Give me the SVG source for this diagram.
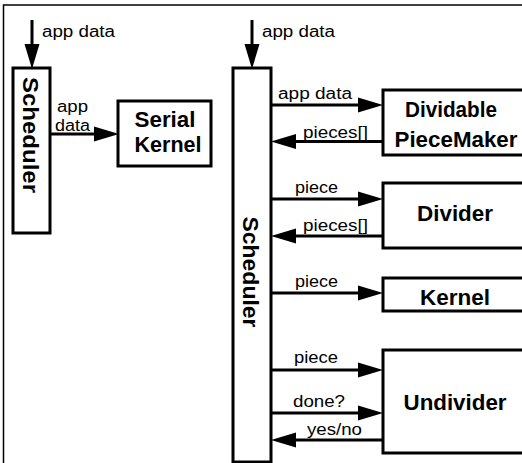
<svg xmlns="http://www.w3.org/2000/svg" width="522" height="463" viewBox="0 0 522 463">
<style>
.box{fill:#fff;stroke:#000;stroke-width:3}
.arr{fill:none;stroke:#000;stroke-width:3;marker-end:url(#ah)}
.lbl{font-family:"Liberation Sans",Arial,sans-serif;font-size:16px;fill:#000}
.ttl{font-family:"Liberation Sans",Arial,sans-serif;font-size:22px;font-weight:bold;fill:#000;text-anchor:middle}
.frame{fill:none;stroke:#000;stroke-width:1.5}
</style>
<defs>
<marker id="ah" markerUnits="userSpaceOnUse" markerWidth="26" markerHeight="16" refX="0" refY="7.5" orient="auto" overflow="visible">
<path d="M0,0 L25,7.5 L0,15 Z" fill="#000"/>
</marker>
</defs>
<rect width="522" height="463" fill="#fff"/>
<path class="frame" d="M3.5,463 V5 H522"/>

<g id="connectors">
<path class="arr" d="M32,20 V44"/>
<path class="arr" d="M252,20 V44"/>
<path class="arr" d="M50,134 H94"/>
<path class="arr" d="M271.5,105 H358"/>
<path class="arr" d="M383,141.5 H296"/>
<path class="arr" d="M271.5,199 H358"/>
<path class="arr" d="M383,236 H296"/>
<path class="arr" d="M271.5,293 H358"/>
<path class="arr" d="M271.5,370 H358"/>
<path class="arr" d="M271.5,413 H358"/>
<path class="arr" d="M383,440 H296"/>
<text class="lbl" x="42" y="37" textLength="73" lengthAdjust="spacingAndGlyphs">app data</text>
<text class="lbl" x="262" y="37" textLength="73" lengthAdjust="spacingAndGlyphs">app data</text>
<text class="lbl" x="57" y="112" textLength="31" lengthAdjust="spacingAndGlyphs">app</text>
<text class="lbl" x="55" y="131" textLength="35" lengthAdjust="spacingAndGlyphs">data</text>
<text class="lbl" x="278" y="99" textLength="74" lengthAdjust="spacingAndGlyphs">app data</text>
<text class="lbl" x="303" y="138" textLength="65" lengthAdjust="spacingAndGlyphs">pieces[]</text>
<text class="lbl" x="295" y="193" textLength="43" lengthAdjust="spacingAndGlyphs">piece</text>
<text class="lbl" x="303" y="231" textLength="65" lengthAdjust="spacingAndGlyphs">pieces[]</text>
<text class="lbl" x="295" y="287" textLength="43" lengthAdjust="spacingAndGlyphs">piece</text>
<text class="lbl" x="294" y="363" textLength="44" lengthAdjust="spacingAndGlyphs">piece</text>
<text class="lbl" x="293" y="407" textLength="52" lengthAdjust="spacingAndGlyphs">done?</text>
<text class="lbl" x="307" y="435" textLength="55" lengthAdjust="spacingAndGlyphs">yes/no</text>
</g>

<g id="scheduler-serial">
<rect class="box" x="13" y="68" width="37" height="165"/>
<text class="ttl" transform="translate(23,135) rotate(90)" textLength="116" lengthAdjust="spacingAndGlyphs">Scheduler</text>
</g>
<g id="serial-kernel">
<rect class="box" x="118" y="101" width="93" height="65"/>
<text class="ttl" x="165" y="127" textLength="61" lengthAdjust="spacingAndGlyphs">Serial</text>
<text class="ttl" x="168" y="152" textLength="67" lengthAdjust="spacingAndGlyphs">Kernel</text>
</g>
<g id="scheduler">
<rect class="box" x="233" y="68" width="38" height="394"/>
<text class="ttl" transform="translate(243,272) rotate(90)" textLength="111" lengthAdjust="spacingAndGlyphs">Scheduler</text>
</g>
<g id="dividable-piecemaker">
<rect class="box" x="383" y="90" width="160" height="65"/>
<text class="ttl" x="451" y="117" textLength="92" lengthAdjust="spacingAndGlyphs">Dividable</text>
<text class="ttl" x="456" y="147" textLength="123" lengthAdjust="spacingAndGlyphs">PieceMaker</text>
</g>
<g id="divider">
<rect class="box" x="383" y="183" width="160" height="65"/>
<text class="ttl" x="455" y="221" textLength="76" lengthAdjust="spacingAndGlyphs">Divider</text>
</g>
<g id="kernel">
<rect class="box" x="383" y="278" width="160" height="33"/>
<text class="ttl" x="455" y="305" textLength="70" lengthAdjust="spacingAndGlyphs">Kernel</text>
</g>
<g id="undivider">
<rect class="box" x="383" y="350" width="160" height="103"/>
<text class="ttl" x="455" y="410" textLength="103" lengthAdjust="spacingAndGlyphs">Undivider</text>
</g>
</svg>
